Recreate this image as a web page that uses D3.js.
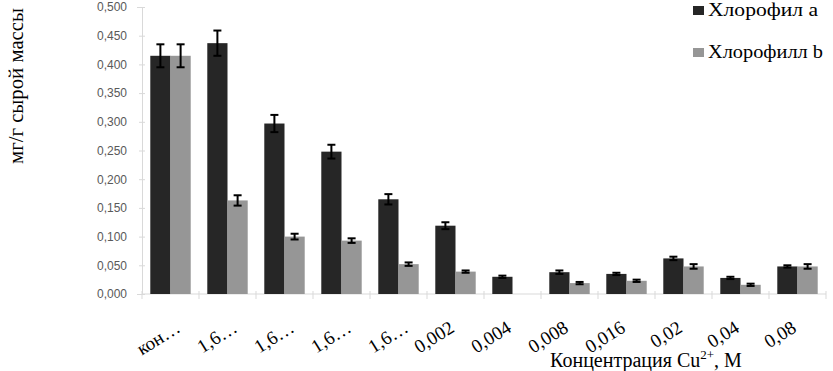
<!DOCTYPE html>
<html><head><meta charset="utf-8">
<script src="https://cdn.jsdelivr.net/npm/d3@7"></script>
<style>body{margin:0;background:#fff} .serif{font-family:'Liberation Serif','DejaVu Serif',serif}</style>
</head><body>
<svg id="c" width="833" height="371"></svg>
<script>
const categories = ["кон…","1,6…","1,6…","1,6…","1,6…","0,002","0,004","0,008","0,016","0,02","0,04","0,08"];
const seriesNames = ["Хлорофил а","Хлорофилл b"];
const chlA = [0.415,0.437,0.297,0.248,0.165,0.119,0.030,0.038,0.035,0.062,0.028,0.048];
const chlB = [0.415,0.163,0.100,0.093,0.052,0.039,0,0.019,0.023,0.048,0.016,0.048];
const errA = [0.020,0.022,0.015,0.012,0.009,0.006,0.002,0.003,0.002,0.003,0.002,0.002];
const errB = [0.020,0.009,0.005,0.004,0.003,0.002,0,0.002,0.002,0.004,0.002,0.004];
const yTicks = [0,0.05,0.1,0.15,0.2,0.25,0.3,0.35,0.4,0.45,0.5];
const colors = ["#262626","#969696"];

const svg = d3.select("#c");
const mLeft=142, mRight=826, mTop=7, mBottom=294;
const x = d3.scaleBand().domain(d3.range(categories.length)).range([mLeft,mRight]).paddingInner(0).paddingOuter(0);
const y = d3.scaleLinear().domain([0,0.5]).range([mBottom,mTop]);
const xs = d3.scaleBand().domain([0,1]).range([0,x.bandwidth()]).paddingInner(0).paddingOuter(0.41);

// axes
const ya = svg.append("g").attr("transform",`translate(${mLeft},0)`)
  .call(d3.axisLeft(y).tickValues(yTicks).tickSize(5).tickFormat(d=>d3.format(".3f")(d).replace(".",",")));
ya.select(".domain").attr("stroke","#d9d9d9");
ya.selectAll(".tick line").attr("stroke","#d9d9d9").attr("x2",3).attr("x1",-3);
ya.selectAll(".tick text").attr("x",-15).attr("fill","#595959").style("font-family","'Liberation Sans', Arial, sans-serif").style("font-size","12px");

const xa = svg.append("g").attr("transform",`translate(0,${mBottom})`);
xa.append("line").attr("x1",mLeft).attr("x2",mRight).attr("stroke","#d9d9d9");
xa.selectAll("line.t").data(d3.range(categories.length+1)).join("line").attr("class","t")
  .attr("x1",i=>mLeft+i*x.bandwidth()).attr("x2",i=>mLeft+i*x.bandwidth()).attr("y1",-3).attr("y2",5).attr("stroke","#d9d9d9");

const series=[chlA,chlB], errs=[errA,errB];
series.forEach((vals,s)=>{
  svg.append("g").selectAll("rect").data(vals).join("rect")
    .attr("x",(d,i)=>x(i)+xs(s)).attr("width",xs.bandwidth())
    .attr("y",d=>y(d)).attr("height",d=>mBottom-y(d)).attr("fill",colors[s]);
  const g = svg.append("g").attr("stroke","#000").attr("stroke-width",2);
  vals.forEach((v,i)=>{
    if(!v) return;
    const cx = x(i)+xs(s)+xs.bandwidth()/2, e=errs[s][i];
    g.append("line").attr("x1",cx).attr("x2",cx).attr("y1",y(v+e)).attr("y2",y(v-e));
    g.append("line").attr("x1",cx-4).attr("x2",cx+4).attr("y1",y(v+e)).attr("y2",y(v+e));
    g.append("line").attr("x1",cx-4).attr("x2",cx+4).attr("y1",y(v-e)).attr("y2",y(v-e));
  });
});

// x labels
svg.append("g").selectAll("text").data(categories).join("text").attr("class","serif")
  .attr("transform",(d,i)=>`translate(${x(i)+x.bandwidth()/2+(d.endsWith("…")?11:0)},${mBottom+37}) rotate(-32)`)
  .attr("text-anchor","end").style("font-size","19px").attr("fill","#000")
  .text(d=>d);

// axis titles
const xt = svg.append("text").attr("class","serif").attr("x",646).attr("y",367).attr("text-anchor","middle")
  .style("font-size","20px");
xt.append("tspan").text("Концентрация Cu");
xt.append("tspan").attr("dy",-8).style("font-size","13px").text("2+");
xt.append("tspan").attr("dy",8).text(", М");

svg.append("text").attr("class","serif").attr("transform","translate(23,86) rotate(-90)").attr("text-anchor","middle")
  .style("font-size","22px").attr("textLength",156).attr("lengthAdjust","spacingAndGlyphs").text("мг/г сырой массы");

// legend
const legendLen=[110,115];
const lg = svg.append("g");
seriesNames.forEach((n,s)=>{
  const yy = 16 + s*42;
  lg.append("rect").attr("x",693).attr("y",yy-10).attr("width",11).attr("height",9).attr("fill",colors[s]);
  lg.append("text").attr("class","serif").attr("x",708).attr("y",yy).style("font-size","19px")
    .attr("textLength",legendLen[s]).attr("lengthAdjust","spacingAndGlyphs").text(n);
});
</script>
</body></html>
